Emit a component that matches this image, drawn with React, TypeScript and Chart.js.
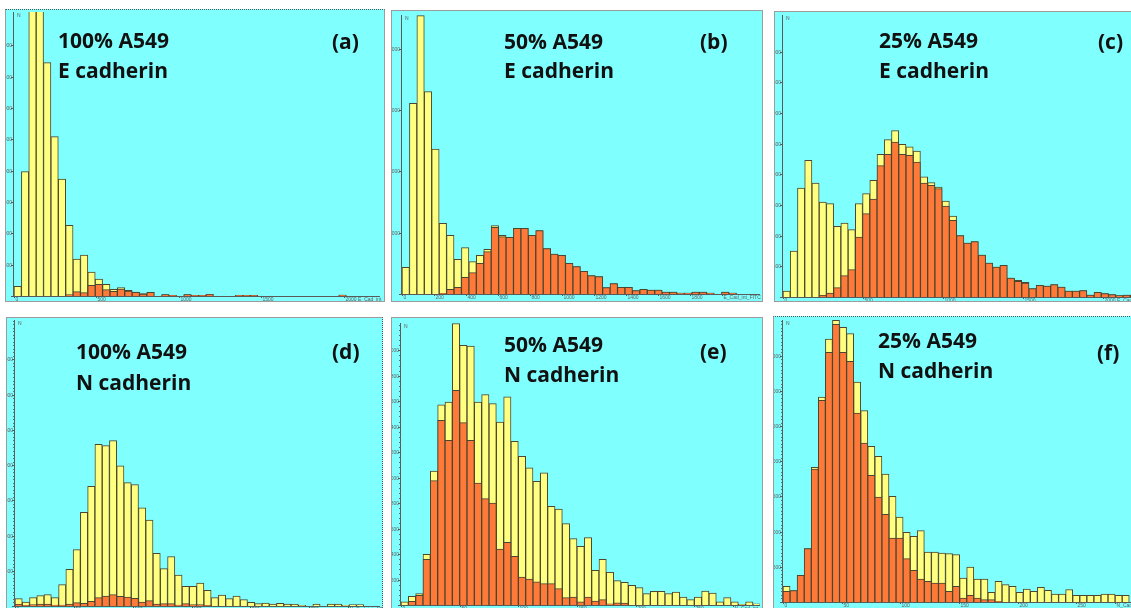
import React, { useEffect, useRef } from "react";
import { Chart, registerables } from "chart.js";

Chart.register(...registerables);

// ---------------- data (counts per histogram bin) ----------------
// (a) 100% A549, E cadherin
const aYellow = [154, 1984, 4700, 4650, 3723, 2542, 1867, 1128, 590, 654, 383, 271, 186, 106, 133, 90, 64, 37, 59, 0, 21, 11, 0, 21, 11, 11, 27, 0, 0, 0, 11, 11, 11, 0, 0, 0, 0, 0, 0, 0, 0, 0, 0, 0, 16];
const aOrange = [0, 0, 0, 0, 0, 0, 0, 21, 69, 53, 170, 186, 101, 74, 112, 80, 59, 32, 59, 0, 21, 11, 0, 21, 11, 11, 27, 0, 0, 0, 11, 11, 11, 0, 0, 0, 0, 0, 0, 0, 0, 0, 0, 0, 16];
// (b) 50% A549, E cadherin
const bYellow = [435, 3109, 4538, 3299, 2364, 1152, 957, 565, 755, 527, 630, 728, 1114, 957, 924, 1071, 1071, 957, 1033, 739, 652, 630, 500, 446, 370, 299, 283, 103, 168, 109, 109, 54, 76, 65, 65, 33, 33, 16, 16, 33, 33, 16, 0, 33, 16];
const bOrange = [0, 0, 0, 0, 0, 11, 76, 109, 272, 348, 500, 690, 1087, 935, 924, 1071, 1071, 957, 1033, 739, 652, 630, 500, 446, 370, 299, 283, 103, 168, 109, 109, 54, 76, 65, 65, 33, 33, 16, 16, 33, 33, 16, 0, 33, 16];
// (c) 25% A549, E cadherin
const cYellow = [98, 750, 1777, 2228, 1859, 1549, 1522, 1152, 1207, 1098, 1522, 1685, 1902, 2326, 2565, 2712, 2489, 2446, 2380, 1957, 1864, 1793, 1565, 1321, 1000, 880, 902, 685, 554, 489, 516, 310, 272, 239, 136, 190, 179, 201, 163, 98, 98, 103, 33, 76, 54, 38, 22, 33, 33];
const cOrange = [0, 0, 0, 0, 0, 27, 65, 152, 348, 446, 978, 1359, 1598, 2141, 2326, 2527, 2326, 2310, 2201, 1859, 1821, 1766, 1484, 1250, 1000, 880, 902, 685, 554, 489, 516, 310, 255, 228, 136, 190, 179, 201, 163, 98, 98, 103, 33, 76, 54, 38, 22, 33, 33];
// (d) 100% A549, N cadherin
const dYellow = [104, 57, 118, 147, 161, 118, 303, 520, 799, 1329, 1698, 2294, 2275, 2346, 1991, 1750, 1722, 1395, 1220, 747, 530, 700, 440, 279, 279, 326, 222, 118, 156, 104, 142, 90, 52, 33, 43, 28, 38, 28, 24, 9, 0, 28, 0, 28, 28, 9, 19, 19];
const dOrange = [24, 9, 19, 28, 28, 14, 14, 28, 47, 38, 66, 118, 142, 161, 137, 128, 109, 57, 76, 28, 33, 33, 14, 33, 19, 19, 9];
// (e) 50% A549, N cadherin
const eYellow = [24, 68, 89, 398, 1052, 1571, 1594, 2210, 2039, 2032, 1594, 1652, 1581, 1437, 1634, 1285, 1168, 1076, 971, 1037, 775, 754, 639, 521, 461, 529, 272, 359, 257, 191, 178, 154, 136, 89, 107, 107, 89, 102, 63, 42, 63, 110, 94, 24, 58, 24, 5, 24, 10];
const eOrange = [0, 29, 76, 359, 977, 1450, 1293, 1686, 1432, 1293, 958, 835, 801, 440, 492, 382, 220, 204, 181, 168, 168, 128, 58, 63, 24, 63, 31, 42, 10, 18, 16];
// (f) 25% A549, N cadherin
const fYellow = [223, 161, 379, 758, 1915, 2914, 3739, 4004, 3905, 3815, 3128, 2720, 2213, 2071, 1820, 1502, 1208, 990, 934, 1014, 711, 711, 697, 687, 673, 341, 498, 327, 327, 137, 294, 246, 223, 137, 185, 152, 209, 166, 114, 114, 175, 95, 95, 95, 95, 114, 114, 95, 95];
const fOrange = [152, 161, 379, 758, 1891, 2867, 3550, 3948, 3550, 3422, 2687, 2261, 1801, 1493, 1246, 910, 910, 616, 450, 327, 294, 270, 270, 152, 223, 57, 95, 57, 33, 33, 9];

// bin widths (axis units)
const aBin = 44.8, bBin = 46.5, cBin = 45.2, dBin = 6.17, eBin = 6.25, fBin = 6.02;

// tick values and labels
const eCadXTicks = [0, 500, 1000, 1500, 2000];
const eCadXLabels = ["0", "500", "1000", "1500", "2000 E_Cad_int_FITC"];
const bXTicks = [0, 200, 400, 600, 800, 1000, 1200, 1400, 1600, 1800, 2000];
const bXLabels = ["0", "200", "400", "600", "800", "1000", "1200", "1400", "1600", "1800", "E_Cad_int_FITC"];
const nCadXTicks = [0, 50, 100, 150, 200, 250, 283];
const nCadXLabels = ["0", "50", "100", "150", "200", "250", "N_Cad_int_APC"];
const yTicks500 = [500, 1000, 1500, 2000, 2500, 3000, 3500, 4000];
const yTicks1000 = [1000, 2000, 3000, 4000];
const yTicks500d = [500, 1000, 1500, 2000, 2500, 3000, 3500];
const yTicks200 = [200, 400, 600, 800, 1000, 1200, 1400, 1600, 1800, 2000];

// ---------------- styles ----------------
const CYAN = "#80FFFF";
const YELLOW = "#FFFF80";
const ORANGE = "#FF7A38";
const EDGE = "#4a4630";
const TEXT_FONT = '"Open Sans", "DejaVu Sans", sans-serif';

type Box = { left: number; top: number; width: number; height: number };
type Plot = { left: number; top: number; right: number; bottom: number };
type Label = { text: string; x: number; baseline: number };

type PanelCfg = {
  id: string;
  box: Box;
  plot: Plot;
  yellow: number[];
  orange: number[];
  bin: number;
  xMax: number;
  yMax: number;
  xTicks: number[];
  xLabels: string[];
  yTicks: number[];
  minorSteps?: number;
  labels: Label[];
  dottedTop?: boolean;
  dottedRight?: boolean;
};

const panels: PanelCfg[] = [
  {
    id: "a", box: { left: 5, top: 9, width: 380, height: 293 }, plot: { left: 14, top: 12, right: 380, bottom: 296 },
    yellow: aYellow, orange: aOrange, bin: aBin, xMax: 2221, yMax: 4532,
    xTicks: eCadXTicks, xLabels: eCadXLabels, yTicks: yTicks500, dottedTop: true,
    labels: [{ text: "100% A549", x: 58, baseline: 49 }, { text: "E cadherin", x: 58, baseline: 79 }, { text: "(a)", x: 332, baseline: 50 }],
  },
  {
    id: "b", box: { left: 391, top: 10, width: 372, height: 292 }, plot: { left: 402, top: 15, right: 760, bottom: 294 },
    yellow: bYellow, orange: bOrange, bin: bBin, xMax: 2240, yMax: 4549,
    xTicks: bXTicks, xLabels: bXLabels, yTicks: yTicks1000,
    labels: [{ text: "50% A549", x: 504, baseline: 50 }, { text: "E cadherin", x: 504, baseline: 79 }, { text: "(b)", x: 700, baseline: 50 }],
  },
  {
    id: "c", box: { left: 774, top: 11, width: 372, height: 291 }, plot: { left: 783, top: 15, right: 1141, bottom: 297 },
    yellow: cYellow, orange: cOrange, bin: cBin, xMax: 2237, yMax: 4597,
    xTicks: eCadXTicks, xLabels: eCadXLabels, yTicks: yTicks500,
    labels: [{ text: "25% A549", x: 879, baseline: 49 }, { text: "E cadherin", x: 879, baseline: 79 }, { text: "(c)", x: 1098, baseline: 50 }],
  },
  {
    id: "d", box: { left: 6, top: 317, width: 377, height: 295 }, plot: { left: 15, top: 320, right: 380, bottom: 606 },
    yellow: dYellow, orange: dOrange, bin: dBin, xMax: 310, yMax: 4059,
    xTicks: nCadXTicks, xLabels: nCadXLabels, yTicks: yTicks500d, minorSteps: 10, dottedRight: true,
    labels: [{ text: "100% A549", x: 76, baseline: 360 }, { text: "N cadherin", x: 76, baseline: 391 }, { text: "(d)", x: 332, baseline: 360 }],
  },
  {
    id: "e", box: { left: 391, top: 317, width: 372, height: 295 }, plot: { left: 401, top: 323, right: 760, bottom: 605 },
    yellow: eYellow, orange: eOrange, bin: eBin, xMax: 306, yMax: 2214,
    xTicks: nCadXTicks, xLabels: nCadXLabels, yTicks: yTicks200, minorSteps: 5,
    labels: [{ text: "50% A549", x: 504, baseline: 353 }, { text: "N cadherin", x: 504, baseline: 383 }, { text: "(e)", x: 700, baseline: 360 }],
  },
  {
    id: "f", box: { left: 773, top: 316, width: 373, height: 296 }, plot: { left: 783, top: 320, right: 1141, bottom: 602 },
    yellow: fYellow, orange: fOrange, bin: fBin, xMax: 305, yMax: 4009,
    xTicks: nCadXTicks, xLabels: nCadXLabels, yTicks: yTicks500d, minorSteps: 10, dottedTop: true,
    labels: [{ text: "25% A549", x: 878, baseline: 349 }, { text: "N cadherin", x: 878, baseline: 379 }, { text: "(f)", x: 1097, baseline: 361 }],
  },
];

function makeAxesPlugin(cfg: PanelCfg) {
  return {
    id: "histAxes_" + cfg.id,
    afterDatasetsDraw(chart: any) {
      const { ctx, chartArea, scales } = chart;
      const { left, right, top, bottom } = chartArea;
      const x = scales.x;
      const y = scales.y;
      ctx.save();
      ctx.strokeStyle = "#5a5a5a";
      ctx.lineWidth = 1;
      ctx.beginPath();
      ctx.moveTo(Math.round(left) - 0.5, top);
      ctx.lineTo(Math.round(left) - 0.5, bottom + 1);
      ctx.moveTo(left - 3, Math.round(bottom) + 0.5);
      ctx.lineTo(right, Math.round(bottom) + 0.5);
      ctx.stroke();
      // minor y ticks (dense ruler marks)
      if (cfg.minorSteps && cfg.yTicks.length > 1) {
        const step = (cfg.yTicks[1] - cfg.yTicks[0]) / cfg.minorSteps;
        ctx.strokeStyle = "#6a6a6a";
        ctx.beginPath();
        for (let v = step; v < cfg.yMax; v += step) {
          const py = Math.round(y.getPixelForValue(v)) + 0.5;
          ctx.moveTo(left - 2, py);
          ctx.lineTo(left - 0.5, py);
        }
        ctx.stroke();
        ctx.strokeStyle = "#5a5a5a";
      }
      ctx.font = '5px "Liberation Sans", sans-serif';
      ctx.fillStyle = "#606060";
      // y ticks
      ctx.textAlign = "right";
      ctx.textBaseline = "middle";
      cfg.yTicks.forEach((v) => {
        const py = Math.round(y.getPixelForValue(v)) + 0.5;
        ctx.beginPath();
        ctx.moveTo(left - 3, py);
        ctx.lineTo(left, py);
        ctx.stroke();
        ctx.fillText(String(v), left - 2, py);
      });
      // x ticks
      ctx.textAlign = "left";
      ctx.textBaseline = "top";
      cfg.xTicks.forEach((v, i) => {
        const px = Math.round(x.getPixelForValue(v)) + 0.5;
        ctx.beginPath();
        ctx.moveTo(px, bottom);
        ctx.lineTo(px, bottom + 2);
        ctx.stroke();
        ctx.fillText(cfg.xLabels[i], px + 1, bottom + 1.5);
      });
      ctx.fillText("N", left + 3, top + 1);
      ctx.restore();
    },
  };
}

function Panel({ cfg }: { cfg: PanelCfg }) {
  const ref = useRef<HTMLCanvasElement | null>(null);
  const innerW = cfg.box.width - 2;
  const innerH = cfg.box.height - 2;
  useEffect(() => {
    if (!ref.current) return;
    const ox = cfg.box.left + 1;
    const oy = cfg.box.top + 1;
    const toPts = (arr: number[]) => arr.map((v, i) => ({ x: (i + 0.5) * cfg.bin, y: v }));
    const common = {
      borderColor: EDGE,
      borderWidth: 1,
      borderSkipped: "start" as const,
      grouped: false,
      barPercentage: 1,
      categoryPercentage: 1,
    };
    const chart = new Chart(ref.current, {
      type: "bar",
      data: {
        datasets: [
          { label: "subset", data: toPts(cfg.orange), backgroundColor: ORANGE, ...common },
          { label: "all", data: toPts(cfg.yellow), backgroundColor: YELLOW, ...common },
        ],
      },
      options: {
        animation: false,
        responsive: false,
        maintainAspectRatio: false,
        devicePixelRatio: 1,
        layout: {
          padding: {
            left: cfg.plot.left - ox,
            top: cfg.plot.top - oy,
            right: ox + innerW - cfg.plot.right,
            bottom: oy + innerH - cfg.plot.bottom,
          },
        },
        plugins: { legend: { display: false }, tooltip: { enabled: false } },
        scales: {
          x: { type: "linear", display: false, min: 0, max: cfg.xMax, offset: false },
          y: { type: "linear", display: false, min: 0, max: cfg.yMax },
        },
      } as any,
      plugins: [makeAxesPlugin(cfg)],
    });
    return () => chart.destroy();
  }, [cfg]);

  const solid = "1px solid #9c9c9c";
  const dotted = "1px dotted #555";
  return (
    <div
      style={{
        position: "absolute",
        left: cfg.box.left,
        top: cfg.box.top,
        width: innerW,
        height: innerH,
        background: CYAN,
        borderLeft: solid,
        borderBottom: solid,
        borderTop: cfg.dottedTop ? dotted : solid,
        borderRight: cfg.dottedRight ? dotted : solid,
      }}
    >
      <canvas ref={ref} width={innerW} height={innerH} style={{ position: "absolute", left: 0, top: 0, width: innerW, height: innerH }} />
    </div>
  );
}

export default function App() {
  return (
    <div style={{ position: "fixed", left: 0, top: 0, width: 1131, height: 608, overflow: "hidden", background: "#ffffff" }}>
      {panels.map((p) => (
        <Panel key={p.id} cfg={p} />
      ))}
      {panels.flatMap((p) =>
        p.labels.map((l, i) => (
          <div
            key={p.id + i}
            style={{
              position: "absolute",
              left: l.x,
              top: l.baseline - 18.65,
              font: `bold 21px ${TEXT_FONT}`,
              lineHeight: "21px",
              color: "#111",
              whiteSpace: "nowrap",
            }}
          >
            {l.text}
          </div>
        ))
      )}
    </div>
  );
}
